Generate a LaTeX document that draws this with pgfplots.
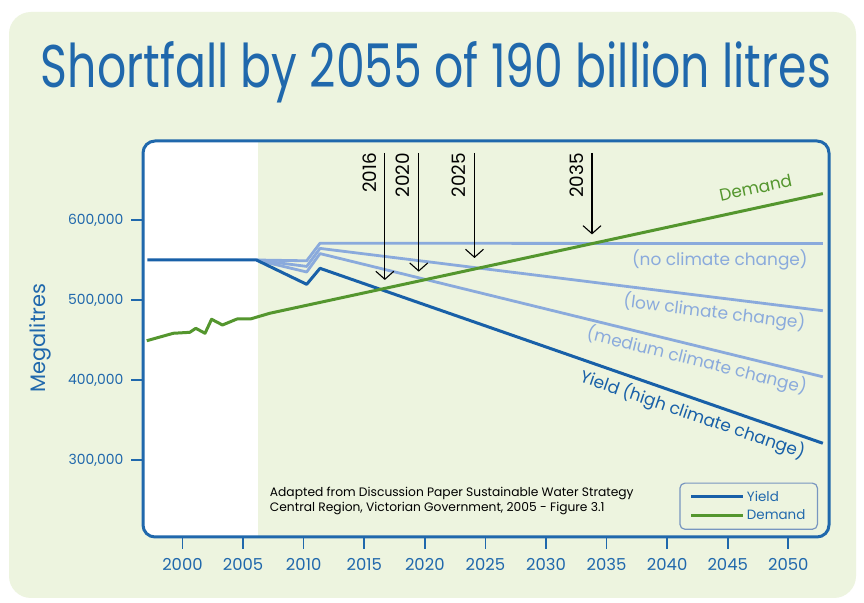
\documentclass[border=0pt]{standalone}
\usepackage{pgfplots}
\pgfplotsset{compat=1.18}
\usepackage{fontspec}
\setmainfont{Poppins}
\usetikzlibrary{arrows.meta}
\definecolor{axisblue}{RGB}{32,104,172}
\definecolor{yieldblue}{RGB}{24,96,168}
\definecolor{lightblue}{RGB}{138,170,220}
\definecolor{dgreen}{RGB}{84,150,46}
\definecolor{bggreen}{RGB}{237,244,223}
\definecolor{legendgray}{RGB}{120,150,192}
\begin{document}
\begin{tikzpicture}
% page background
\fill[white] (0bp,0bp) rectangle (864bp,603bp);
\fill[bggreen, rounded corners=22bp] (9bp,5bp) rectangle (856bp,591bp);
% plot area background
\begin{scope}
\clip[rounded corners=12bp] (143bp,66bp) rectangle (829bp,462bp);
\fill[bggreen] (143bp,66bp) rectangle (829bp,462bp);
\fill[white] (143bp,66bp) rectangle (257.7bp,462bp);
\end{scope}
% title
\node[anchor=base, text=axisblue, inner sep=0pt] at (436bp,515bp)
  {\resizebox{790bp}{46bp}{\fontsize{60}{60}\selectfont Shortfall by 2055 of 190 billion litres}};
% y label
\node[rotate=90, text=axisblue, font=\fontsize{21}{21}\selectfont] at (40bp,265bp) {Megalitres};
\begin{axis}[
  at={(143bp,66bp)}, anchor=south west,
  scale only axis, width=686bp, height=396bp,
  xmin=1996.74, xmax=2053.36, ymin=203750, ymax=698750,
  scaled y ticks=false, scaled x ticks=false,
  axis line style={draw=none},
  xtick={2000,2005,2010,2015,2020,2025,2030,2035,2040,2045,2050},
  xticklabels={2000,2005,2010,2015,2020,2025,2030,2035,2040,2045,2050},
  ytick={300000,400000,500000,600000},
  yticklabels={{300,000},{400,000},{500,000},{600,000}},
  tick pos=left, tick align=outside, major tick length=12bp,
  tick style={draw=axisblue, line width=1.6bp},
  xticklabel style={font=\fontsize{16.5}{16.5}\selectfont, text=axisblue, yshift=-6bp},
  yticklabel style={font=\fontsize{14}{14}\selectfont, text=axisblue, xshift=-4bp},
  legend style={at={(0.984,0.018)}, anchor=south east, draw=legendgray, rounded corners=5bp,
    fill=none, line width=1.2bp, font=\fontsize{13.5}{13.5}\selectfont, text=axisblue,
    inner xsep=10bp, inner ysep=6bp, row sep=3bp, cells={anchor=west}},
  legend image code/.code={\draw[#1] (0bp,0bp) -- (52bp,0bp);},
  line join=round,
]
% fan (climate scenarios)
\addplot[lightblue, line width=2.8bp, forget plot] coordinates {
 (2006.1,550000) (2010.25,549000) (2011.35,571000) (2052.85,570500)};
\addplot[lightblue, line width=2.8bp, forget plot] coordinates {
 (2006.1,550000) (2010.25,542000) (2011.35,564500) (2052.85,486600)};
\addplot[lightblue, line width=2.8bp, forget plot] coordinates {
 (2006.1,550000) (2010.25,535000) (2011.35,558000) (2052.85,404000)};
% yield (high climate change)
\addplot[yieldblue, line width=3bp] coordinates {
 (1997.1,550000) (2006.1,550000) (2010.25,519600) (2011.35,539600) (2052.85,320900)};
\addlegendentry{Yield}
% demand
\addplot[dgreen, line width=3bp] coordinates {
 (1997.05,449100) (1999.24,458400) (2000.6,459600) (2001.1,464600) (2001.86,458400)
 (2002.4,475900) (2003.3,468750) (2004.5,476250) (2005.6,476250) (2007.2,483400)
 (2020,525300) (2033.6,569800) (2052.85,633000)};
\addlegendentry{Demand}
% arrows
\draw[line width=1.1bp, -{Straight Barb[length=8bp,width=18bp]}] (axis cs:2016.7,683750) -- (axis cs:2016.7,525000);
\draw[line width=1.1bp, -{Straight Barb[length=8bp,width=18bp]}] (axis cs:2019.5,683750) -- (axis cs:2019.5,535400);
\draw[line width=1.1bp, -{Straight Barb[length=8bp,width=18bp]}] (axis cs:2024.1,683750) -- (axis cs:2024.1,552500);
\draw[line width=1.1bp, -{Straight Barb[length=8bp,width=18bp]}] (axis cs:2033.8,683750) -- (axis cs:2033.8,582000);
\node[rotate=90, anchor=east, font=\fontsize{18.5}{18.5}\selectfont, inner sep=0pt] at (axis cs:2015.45,683750) {2016};
\node[rotate=90, anchor=east, font=\fontsize{18.5}{18.5}\selectfont, inner sep=0pt] at (axis cs:2018.2,683750) {2020};
\node[rotate=90, anchor=east, font=\fontsize{18.5}{18.5}\selectfont, inner sep=0pt] at (axis cs:2022.76,683750) {2025};
\node[rotate=90, anchor=east, font=\fontsize{18.5}{18.5}\selectfont, inner sep=0pt] at (axis cs:2032.5,683750) {2035};
% series labels
\node[rotate=12, text=dgreen, font=\fontsize{17}{17}\selectfont, inner sep=1pt] at (axis cs:2047.3,640500) {Demand};
\node[text=lightblue, font=\fontsize{17}{17}\selectfont, inner sep=1pt] at (axis cs:2044.35,550000) {(no climate change)};
\node[rotate=-7, text=lightblue, font=\fontsize{17}{17}\selectfont, inner sep=1pt] at (axis cs:2043.9,484500) {(low climate change)};
\node[rotate=-14, text=lightblue, font=\fontsize{17}{17}\selectfont, inner sep=1pt] at (axis cs:2042.45,424000) {(medium climate change)};
\node[rotate=-19, text=yieldblue, font=\fontsize{17}{17}\selectfont, inner sep=1pt] at (axis cs:2042.1,356500) {Yield (high climate change)};
% source
\node[anchor=north west, align=left, font=\fontsize{12.3}{14.5}\selectfont, inner sep=0pt] at (axis cs:2007.2,266000)
  {Adapted from Discussion Paper Sustainable Water Strategy\\Central Region, Victorian Government, 2005 - Figure 3.1};
\end{axis}
% plot box border
\draw[axisblue, line width=3bp, rounded corners=12bp] (143bp,66bp) rectangle (829bp,462bp);
\end{tikzpicture}
\end{document}
